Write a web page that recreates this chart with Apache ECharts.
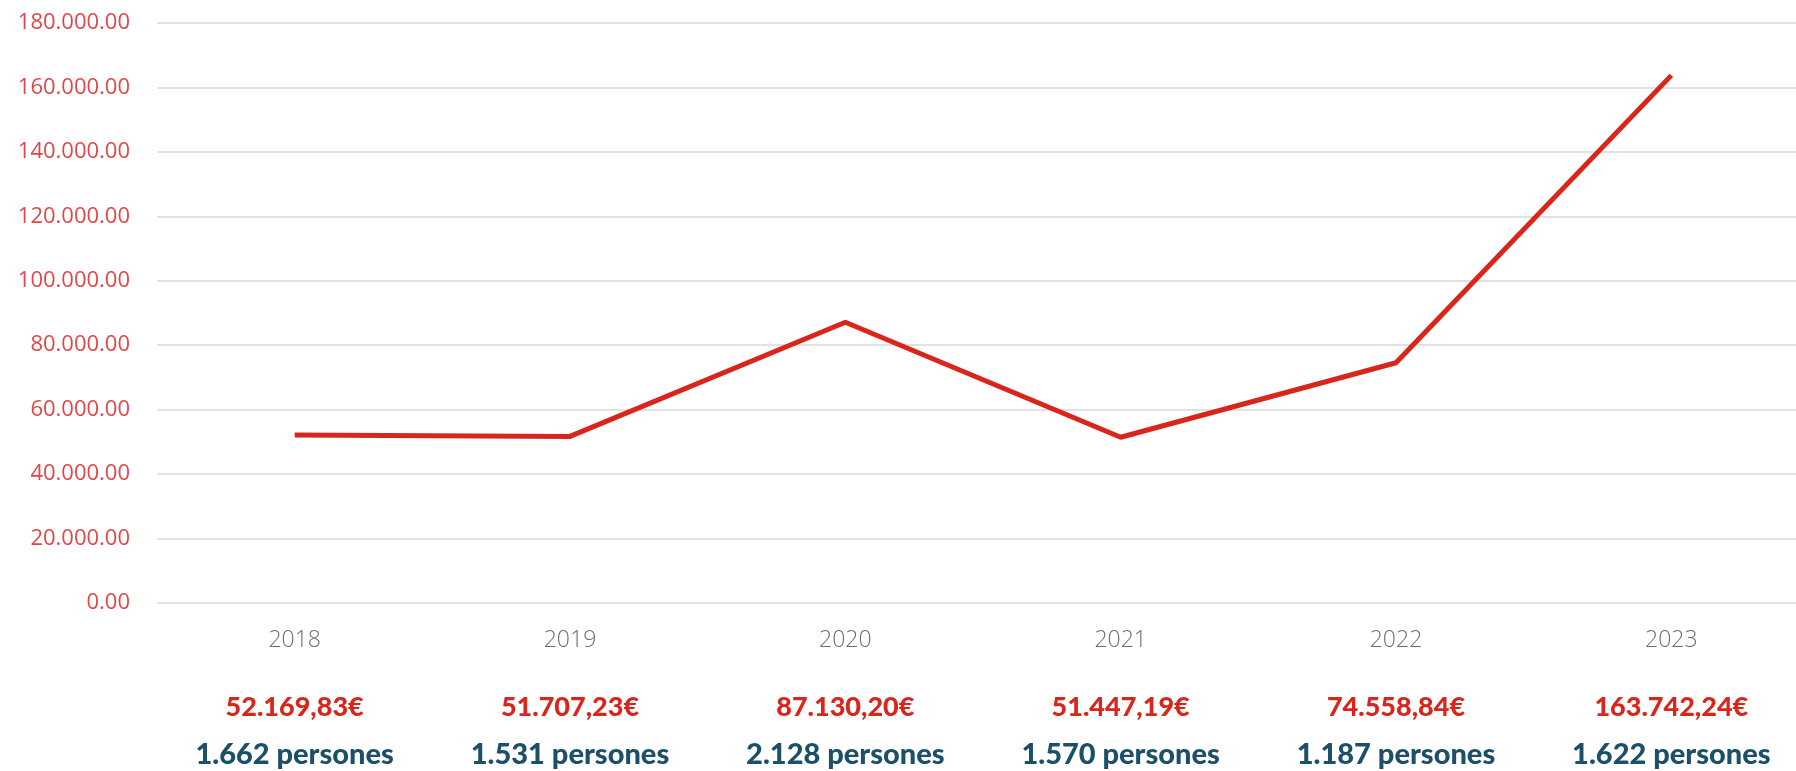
<!DOCTYPE html>
<html>
<head>
<meta charset="utf-8">
<script src="https://cdn.jsdelivr.net/npm/echarts@6/dist/echarts.min.js"></script>
<style>
  html, body { margin: 0; padding: 0; background: #ffffff; }
  #chart { width: 1796px; height: 771px; }
</style>
</head>
<body>
<div id="chart"></div>
<script>
// 数据
const years = ['2018', '2019', '2020', '2021', '2022', '2023'];
const amounts = [52169.83, 51707.23, 87130.20, 51447.19, 74558.84, 163742.24];
const amountLabels = ['52.169,83€', '51.707,23€', '87.130,20€', '51.447,19€', '74.558,84€', '163.742,24€'];
const peopleLabels = ['1.662 persones', '1.531 persones', '2.128 persones', '1.570 persones', '1.187 persones', '1.622 persones'];

const chart = echarts.init(document.getElementById('chart'));

// 底部标签轴的公共样式
const labelAxis = (data, offset, color, size) => ({
  type: 'category',
  position: 'bottom',
  offset: offset,
  data: data,
  axisLine: { show: false },
  axisTick: { show: false },
  splitLine: { show: false },
  axisLabel: {
    interval: 0,
    margin: 0,
    color: color,
    fontFamily: 'Lato',
    fontWeight: 900,
    fontSize: size,
  },
});

const option = {
  backgroundColor: '#ffffff',
  animation: false,
  grid: {
    left: 157,
    right: -13,
    top: 23,
    bottom: 168,
    containLabel: false,
    outerBoundsMode: 'none',
  },
  xAxis: [
    {
      type: 'category',
      data: years,
      boundaryGap: true,
      axisLine: { show: false },
      axisTick: { show: false },
      axisLabel: {
        margin: 26,
        color: '#6e6e6e',
        fontFamily: 'Open Sans',
        fontWeight: 300,
        fontSize: 23,
      },
    },
    labelAxis(amountLabels, 91, '#d9261c', 27),
    labelAxis(peopleLabels, 137, '#1b5068', 29),
  ],
  yAxis: {
    type: 'value',
    min: 0,
    max: 180000,
    interval: 20000,
    axisLine: { show: false },
    axisTick: { show: false },
    axisLabel: {
      margin: 27,
      color: '#e04848',
      fontFamily: 'Open Sans',
      fontWeight: 'normal',
      fontSize: 22,
      formatter: function (value) {
        return value.toFixed(2).replace(/\B(?=(\d{3})+(?!\d))/g, '.');
      },
    },
    splitLine: {
      show: true,
      lineStyle: { color: '#d9d9d9', width: 1.5 },
    },
  },
  series: [
    {
      type: 'line',
      data: amounts,
      xAxisIndex: 0,
      symbol: 'none',
      lineStyle: { color: '#d9261c', width: 5 },
    },
  ],
};

chart.setOption(option);
</script>
</body>
</html>
